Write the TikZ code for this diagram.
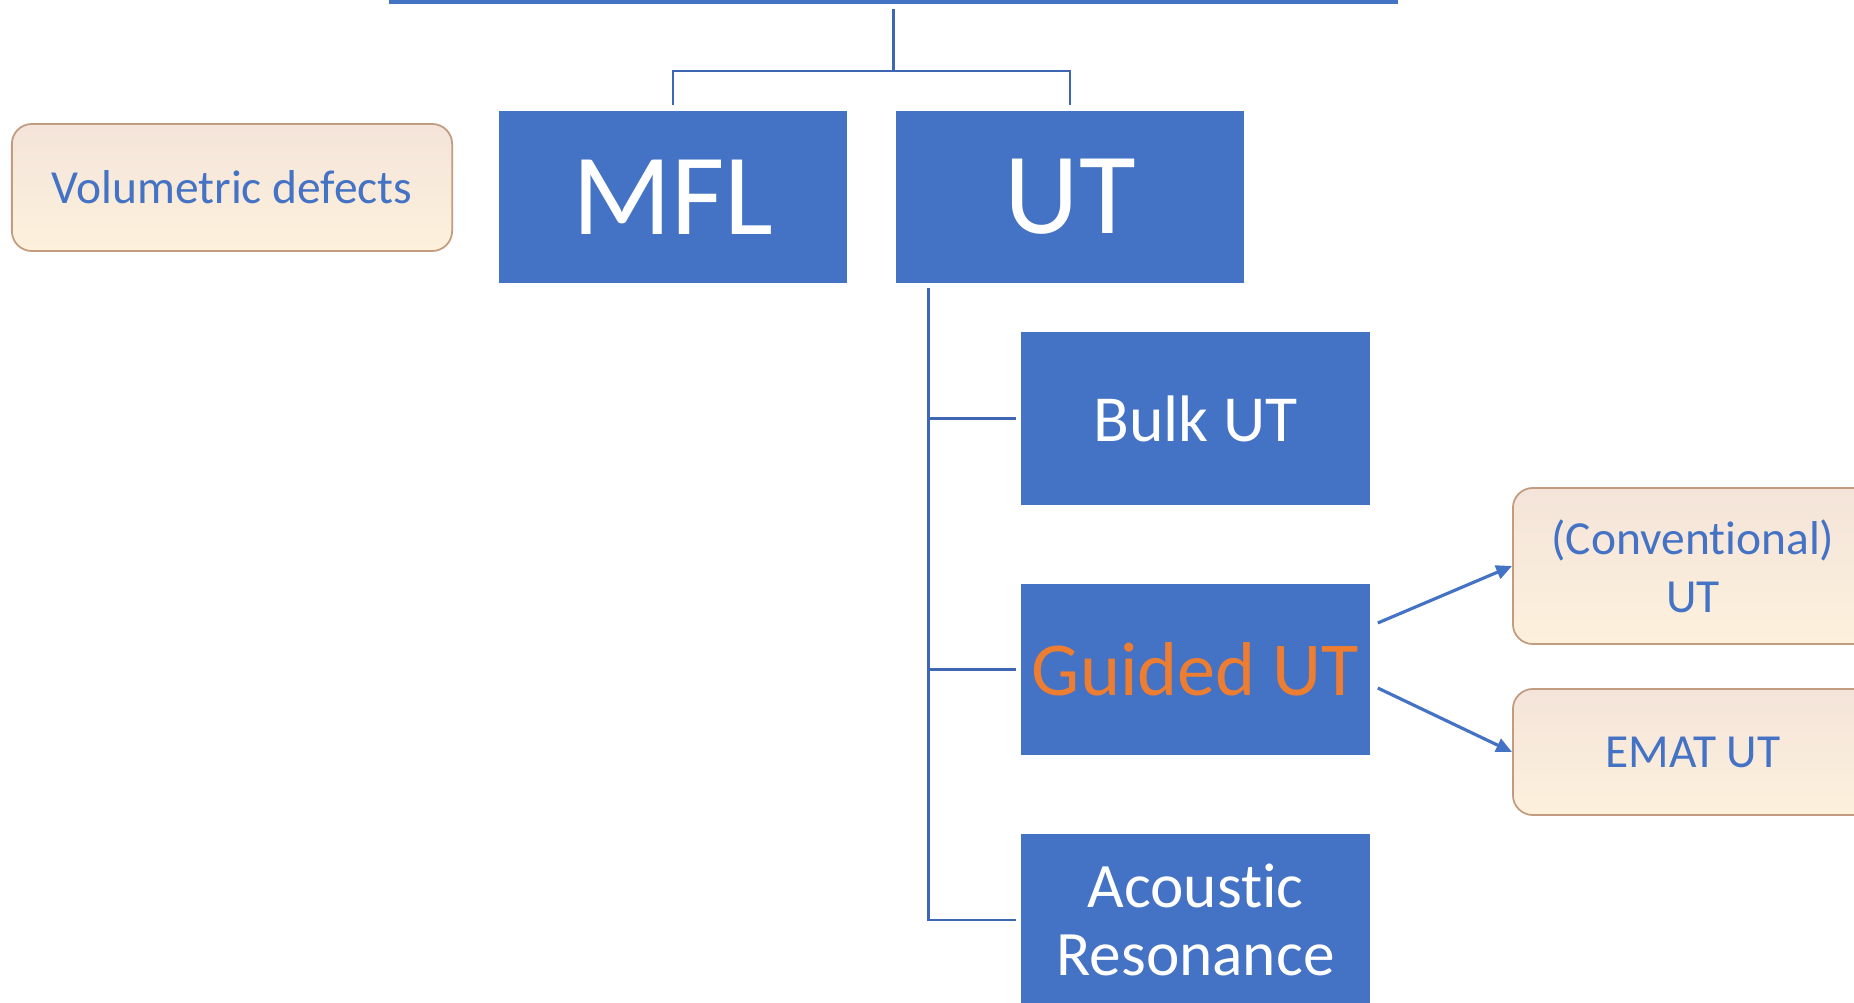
\documentclass[tikz,border=0pt]{standalone}
\usepackage{fontspec}
\setmainfont{Carlito}[Ligatures=NoCommon]
\usetikzlibrary{arrows.meta}
\definecolor{boxblue}{HTML}{4472C4}
\definecolor{lineblue}{HTML}{3E66B3}
\definecolor{guideorange}{HTML}{ED7D31}
\definecolor{notefill}{HTML}{FBEFE6}
\definecolor{notetop}{HTML}{F4E4DA}
\definecolor{notebottom}{HTML}{FDF1DC}
\definecolor{noteedge}{HTML}{C29C80}

\begin{document}
\begin{tikzpicture}[x=0.01cm,y=0.01cm,
    method/.style={fill=boxblue,text=white,inner sep=0pt,align=center},
    note/.style={top color=notetop,middle color=notefill,bottom color=notebottom,
      draw=noteedge,line width=0.5pt,rounded corners=0.2cm,
      text=boxblue,inner sep=0pt,align=center,font=\fontsize{13.5}{16.4}\selectfont},
    tree/.style={draw=lineblue,line width=0.75pt},
    link/.style={draw=boxblue,line width=0.9pt,-{Triangle[length=4.5pt,width=4pt]}}]
  \useasboundingbox (0,0) rectangle (1854,1002);
  % top level, cut by the page edge
  \node[method,minimum width=10.09cm,minimum height=0.3cm,anchor=south] (root) at (893.5,997) {};
  % methods
  \node[method,minimum width=3.48cm,minimum height=1.72cm,font=\fontsize{33}{40}\selectfont] (mfl) at (673,805) {MFL};
  \node[method,minimum width=3.48cm,minimum height=1.72cm,font=\fontsize{33}{40}\selectfont] (ut) at (1070,805) {UT};
  \node[note,minimum width=4.4cm,minimum height=1.27cm] (voldef) at (232,814.5) {Volumetric defects};
  % UT family
  \node[method,minimum width=3.49cm,minimum height=1.73cm,font=\fontsize{18.7}{22}\selectfont] (bulk) at (1195.5,583.5) {Bulk UT};
  \node[method,minimum width=3.49cm,minimum height=1.71cm,text=guideorange,font=\fontsize{21.7}{26}\selectfont] (guided) at (1195.5,332.5) {Guided UT};
  \node[method,minimum width=3.49cm,minimum height=1.72cm,font=\fontsize{18}{19.5}\selectfont] (acoustic) at (1195.5,82) {Acoustic\\Resonance};
  \node[note,minimum width=3.6cm,minimum height=1.56cm] (conv) at (1693,436) {(Conventional)\\UT};
  \node[note,minimum width=3.6cm,minimum height=1.26cm] (emat) at (1693,250) {EMAT UT};

  \draw[tree] ([yshift=-0.04cm]root.south) -- ++(0,-62) coordinate (fork);
  \draw[tree] ([yshift=0.05cm]mfl.north) |- (fork) -| ([yshift=0.05cm]ut.north);
  \coordinate (trunk) at ([shift={(0.33cm,-0.04cm)}]ut.south west);
  \draw[tree] (trunk) |- ([xshift=-0.04cm]acoustic.west);
  \draw[tree] (trunk |- bulk.west) -- ([xshift=-0.04cm]bulk.west);
  \draw[tree] (trunk |- guided.west) -- ([xshift=-0.04cm]guided.west);
  \draw[link] ([shift={(0.07cm,0.465cm)}]guided.east) -- (conv.west);
  \draw[link] ([shift={(0.07cm,-0.185cm)}]guided.east) -- (emat.west);
\end{tikzpicture}
\end{document}
